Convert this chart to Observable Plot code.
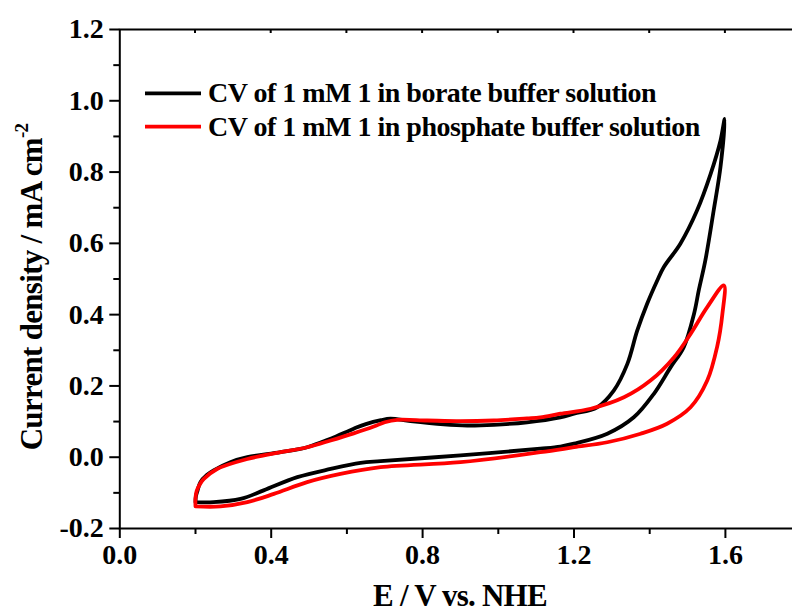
<!DOCTYPE html>
<html><head><meta charset="utf-8">
<script src="https://cdn.jsdelivr.net/npm/d3@7"></script>
<script src="https://cdn.jsdelivr.net/npm/@observablehq/plot@0.6"></script>
<style>body{margin:0;background:#fff}</style>
</head><body><div id="chart"></div>
<script>
const seriesNames = ["CV of 1 mM 1 in borate buffer solution", "CV of 1 mM 1 in phosphate buffer solution"];
const seriesColors = ["#000000", "#ff0000"];

const borateE = [0.2,0.201,0.205,0.213,0.23,0.248,0.292,0.337,0.425,0.495,0.557,0.618,0.65,0.69,0.715,0.768,0.856,0.918,0.988,1.076,1.164,1.2,1.261,1.305,1.341,1.367,1.393,1.42,1.437,1.481,1.525,1.561,1.587,1.598,
  1.587,1.569,1.547,1.53,1.517,1.49,1.455,1.411,1.358,1.288,1.2,1.164,1.111,0.9,0.689,0.636,0.557,0.469,0.38,0.319,0.248,0.2];
const borateJ = [-0.126,-0.11,-0.095,-0.07,-0.05,-0.037,-0.014,0.0,0.014,0.028,0.052,0.08,0.093,0.104,0.108,0.101,0.092,0.089,0.091,0.098,0.112,0.122,0.14,0.187,0.262,0.355,0.43,0.496,0.533,0.599,0.692,0.795,0.888,0.949,
  0.814,0.692,0.552,0.47,0.402,0.309,0.252,0.178,0.112,0.066,0.038,0.03,0.024,0.005,-0.011,-0.016,-0.033,-0.056,-0.093,-0.117,-0.126,-0.126];

const phosphateE = [0.2,0.2,0.203,0.212,0.222,0.257,0.337,0.425,0.495,0.557,0.618,0.671,0.70,0.733,0.812,0.9,0.988,1.076,1.111,1.164,1.244,1.332,1.402,1.464,1.508,1.552,1.596,
  1.592,1.578,1.552,1.508,1.446,1.376,1.288,1.2,1.111,0.9,0.689,0.583,0.495,0.407,0.337,0.266,0.2];
const phosphateJ = [-0.138,-0.115,-0.095,-0.075,-0.061,-0.033,-0.005,0.014,0.028,0.047,0.067,0.086,0.098,0.105,0.103,0.101,0.103,0.109,0.112,0.122,0.136,0.168,0.215,0.28,0.346,0.421,0.482,
  0.402,0.309,0.215,0.14,0.094,0.066,0.042,0.028,0.014,-0.014,-0.028,-0.047,-0.07,-0.103,-0.126,-0.138,-0.138];

const xMajorTicks = [0.0, 0.4, 0.8, 1.2, 1.6];
const xMinorTicks = [0.2, 0.6, 1.0, 1.4];
const xTopTicks = [0.2, 0.4, 0.6, 0.8, 1.0, 1.2, 1.4, 1.6];
const yMajorTicks = [-0.2, 0.0, 0.2, 0.4, 0.6, 0.8, 1.0, 1.2];
const yMinorTicks = [-0.1, 0.1, 0.3, 0.5, 0.7, 0.9, 1.1];
const xTitle = "E / V vs. NHE";
const yTitle = "Current density / mA cm";
const yTitleSup = "-2";

(function () {
const rows = [];
borateE.forEach((e, i) => rows.push({series: seriesNames[0], E: e, J: borateJ[i]}));
phosphateE.forEach((e, i) => rows.push({series: seriesNames[1], E: e, J: phosphateJ[i]}));

const FONT = "'Liberation Serif', 'Times New Roman', serif";
const fmt = d => d.toFixed(1);

const plot = Plot.plot({
  width: 792,
  height: 612,
  marginLeft: 119.3,
  marginRight: -8.6,
  marginTop: 29,
  marginBottom: 84,
  style: {fontFamily: FONT, fontWeight: "bold", fontSize: "28px", color: "#000", background: "#fff", overflow: "hidden"},
  x: {domain: [0, 1.8]},
  y: {domain: [-0.2, 1.2]},
  color: {domain: seriesNames, range: seriesColors},
  marks: [
    Plot.line(rows, {x: "E", y: "J", z: "series", stroke: "series", strokeWidth: 3.8, curve: "catmull-rom"}),
    Plot.frame({stroke: "#000", strokeWidth: 2}),
    Plot.axisX({ticks: xMajorTicks, tickSize: 10, tickPadding: 6, tickFormat: fmt, strokeWidth: 2, label: null, fontSize: 28, fontWeight: "bold"}),
    Plot.axisX({ticks: xMinorTicks, tickSize: 6, tickFormat: () => "", strokeWidth: 2, label: null}),
    Plot.axisY({ticks: yMajorTicks, tickSize: 10, tickPadding: 6, tickFormat: fmt, strokeWidth: 2, label: null, fontSize: 28, fontWeight: "bold"}),
    Plot.axisY({ticks: yMinorTicks, tickSize: 6, tickFormat: () => "", strokeWidth: 2, label: null})
  ]
});
document.getElementById("chart").appendChild(plot);

const sx = plot.scale("x"), sy = plot.scale("y");
const svg = d3.select(plot.tagName.toLowerCase() === "svg" ? plot : plot.querySelector("svg"));
const frameTop = sy.range[1];

// top inward ticks
svg.append("g").selectAll("line").data(xTopTicks).join("line")
  .attr("x1", d => sx.apply(d)).attr("x2", d => sx.apply(d))
  .attr("y1", frameTop).attr("y2", frameTop + 4)
  .attr("stroke", "#000").attr("stroke-width", 2);

// axis titles
const xc = (sx.range[0] + sx.range[1]) / 2;
svg.append("text").attr("x", xc).attr("y", 606)
  .attr("text-anchor", "middle").style("font-size", "31px").style("letter-spacing", "-0.8px")
  .attr("fill", "#000").text(xTitle);

const yt = svg.append("text").attr("transform", "translate(42,287) rotate(-90)")
  .attr("text-anchor", "middle").style("font-size", "31px").style("letter-spacing", "-0.7px").attr("fill", "#000");
yt.append("tspan").text(yTitle);
yt.append("tspan").attr("dy", -14).style("font-size", "19px").text(yTitleSup);

// legend
const lg = svg.append("g");
seriesNames.forEach((name, i) => {
  const yy = 93.3 + i * 33.4;
  lg.append("line").attr("x1", 145).attr("x2", 201).attr("y1", yy).attr("y2", yy)
    .attr("stroke", seriesColors[i]).attr("stroke-width", 3.8);
  lg.append("text").attr("x", 208).attr("y", yy + 9).attr("text-anchor", "start")
    .style("font-size", "28px").style("letter-spacing", "-0.5px").attr("fill", "#000").text(name);
});
})();
</script>
</body></html>
